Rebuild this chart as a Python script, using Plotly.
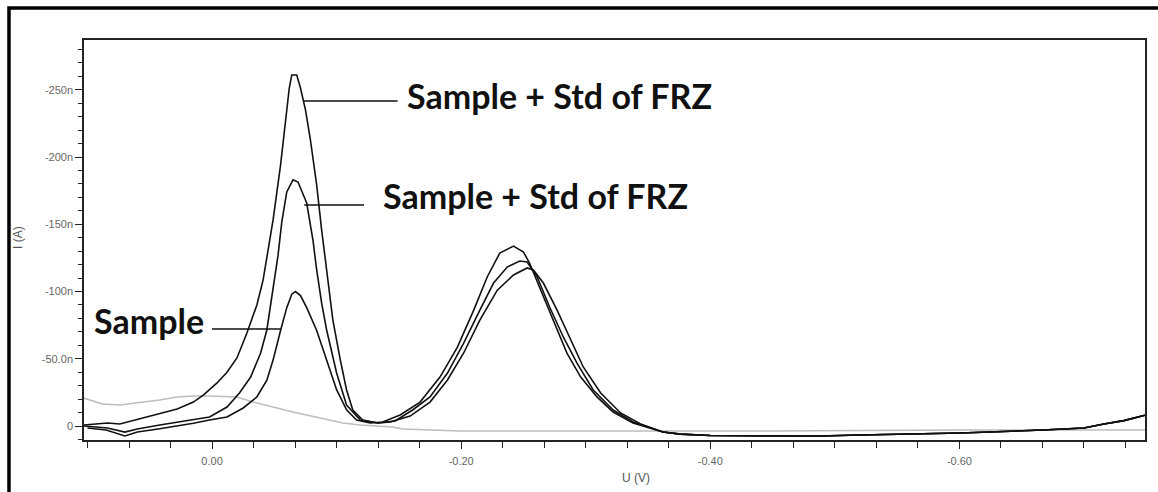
import plotly.graph_objects as go

# ---- data (U in V, I in nA) ----
sample_v = [0.100, 0.085, 0.070, 0.060, 0.042, 0.015, 0.002, -0.012, -0.025, -0.036,
            -0.044, -0.049, -0.055, -0.060, -0.064, -0.067, -0.071, -0.076, -0.084, -0.092,
            -0.100, -0.108, -0.116, -0.127, -0.137, -0.151, -0.167, -0.183, -0.197, -0.210,
            -0.221, -0.231, -0.242, -0.250, -0.255, -0.263, -0.274, -0.285, -0.296, -0.309,
            -0.322, -0.338]
sample_i = [1.5, 3.0, 7.4, 4.5, 2.0, -2.0, -4.5, -6.7, -13.4, -21.6,
            -34.0, -49.0, -71.0, -88.0, -98.0, -100.0, -97.0, -88.0, -71.0, -49.0,
            -27.0, -12.0, -4.5, -2.2, -3.0, -8.2, -17.8, -36.4, -58.7, -86.0,
            -111.0, -128.6, -133.8, -129.4, -121.0, -103.0, -79.0, -54.0, -36.4, -21.6,
            -10.4, -2.2]

std1_v = [0.103, 0.084, 0.070, 0.060, 0.042, 0.015, 0.002, -0.012, -0.022, -0.031,
          -0.039, -0.044, -0.049, -0.053, -0.056, -0.060, -0.065, -0.069, -0.076, -0.081,
          -0.084, -0.088, -0.092, -0.100, -0.108, -0.119, -0.133, -0.147, -0.161, -0.175,
          -0.189, -0.202, -0.215, -0.226, -0.237, -0.247, -0.253, -0.261, -0.271, -0.282,
          -0.293, -0.306, -0.322, -0.338]
std1_i = [0.0, 1.5, 4.5, 2.2, -0.7, -4.5, -6.7, -14.1, -24.5, -36.4,
          -54.3, -71.4, -101.0, -127.0, -151.7, -174.0, -183.0, -181.4, -165.8, -138.3,
          -116.0, -91.4, -71.4, -39.4, -15.6, -4.5, -2.2, -3.7, -11.9, -21.6,
          -39.4, -61.7, -86.2, -106.3, -118.2, -122.7, -121.9, -110.8, -88.5, -66.2,
          -46.8, -26.8, -11.9, -3.0]

std2_v = [0.103, 0.084, 0.074, 0.068, 0.055, 0.042, 0.028, 0.015, 0.007, -0.004,
          -0.012, -0.020, -0.028, -0.036, -0.041, -0.045, -0.049, -0.055, -0.059, -0.062,
          -0.064, -0.068, -0.071, -0.075, -0.079, -0.084, -0.088, -0.092, -0.097, -0.103,
          -0.108, -0.113, -0.121, -0.133, -0.143, -0.159, -0.175, -0.189, -0.202, -0.215,
          -0.229, -0.242, -0.253, -0.258, -0.266, -0.277, -0.288, -0.298, -0.312, -0.328,
          -0.344]
std2_i = [-0.7, -2.2, -1.5, -3.0, -5.9, -8.9, -12.6, -17.8, -23.0, -32.0,
          -40.0, -50.6, -69.1, -90.0, -108.6, -130.9, -153.2, -194.0, -227.5, -251.3,
          -261.0, -261.0, -251.3, -235.0, -212.6, -179.2, -145.7, -116.0, -78.8, -49.0,
          -26.8, -11.9, -4.5, -2.2, -3.0, -7.4, -17.8, -34.2, -54.3, -78.8,
          -101.0, -112.3, -117.5, -116.0, -106.3, -86.2, -64.0, -43.9, -24.5, -9.7,
          -1.5]

# common tail of the three black curves
tail_v = [-0.362, -0.376, -0.400, -0.440, -0.488, -0.520, -0.569, -0.601, -0.667, -0.700,
          -0.716, -0.732, -0.749]
tail_i = [4.5, 6.0, 7.0, 7.4, 7.4, 6.7, 6.0, 5.2, 3.0, 1.5,
          -1.5, -4.0, -8.0]

blank_v = [0.103, 0.088, 0.074, 0.060, 0.042, 0.028, 0.015, 0.002, -0.020, -0.033,
           -0.052, -0.065, -0.087, -0.105, -0.119, -0.145, -0.153, -0.199, -0.300, -0.450,
           -0.600, -0.749]
blank_i = [-20.8, -16.4, -15.6, -17.1, -19.3, -21.6, -22.3, -22.3, -21.6, -17.8,
           -13.4, -10.4, -5.9, -2.2, -0.7, 0.7, 2.2, 3.7, 3.7, 3.7,
           3.0, 3.0]

y_tickvals = [0, -50, -100, -150, -200, -250]
y_ticktext = ["0", "-50.0n", "-100n", "-150n", "-200n", "-250n"]
x_tickvals = [0.0, -0.2, -0.4, -0.6]
x_ticktext = ["0.00", "-0.20", "-0.40", "-0.60"]

labels = ["Sample + Std of FRZ", "Sample + Std of FRZ", "Sample"]

fig = go.Figure()
fig.add_trace(go.Scatter(x=blank_v, y=blank_i, mode="lines",
                         line=dict(color="#bdbdbd", width=1.5), name="Blank"))
for vs, is_, nm in [(sample_v, sample_i, "Sample"),
                    (std1_v, std1_i, "Sample + Std 1"),
                    (std2_v, std2_i, "Sample + Std 2")]:
    fig.add_trace(go.Scatter(x=vs + tail_v, y=is_ + tail_i, mode="lines",
                             line=dict(color="#111111", width=1.6), name=nm))

ann_font = dict(family="Lato, 'Open Sans', sans-serif", size=34, color="#111111")
# leader lines (data coordinates)
leaders = [(-0.073, -0.149, -241.6), (-0.074, -0.122, -164.3), (0.0, -0.055, -72.1)]
for x0, x1, yy in leaders:
    fig.add_shape(type="line", x0=x0, x1=x1, y0=yy, y1=yy, xref="x", yref="y",
                  line=dict(color="#111111", width=1.6))
texts = [(-0.155, -245.5), (-0.136, -171.5), (0.0965, -78.5)]
for (tx, ty), lab in zip(texts, labels):
    fig.add_annotation(x=tx, y=ty, xref="x", yref="y", text="<b>" + lab + "</b>",
                       showarrow=False, xanchor="left", yanchor="middle", font=ann_font)

# axis titles
title_font = dict(family="Liberation Sans, Arial, sans-serif", size=12, color="#555555")
fig.add_annotation(text="U (V)", xref="paper", yref="paper", x=0.520, y=-0.095,
                   showarrow=False, xanchor="center", yanchor="middle", font=title_font)
fig.add_annotation(text="I (A)", xref="paper", yref="paper", x=-0.0622, y=0.505,
                   showarrow=False, xanchor="center", yanchor="middle", textangle=-90,
                   font=title_font)

# outer black frame (cut off at right and bottom)
fig.add_shape(type="rect", xref="paper", yref="paper",
              x0=-0.0707, x1=1.03, y0=-0.2, y1=1.08,
              line=dict(color="black", width=3.5), layer="above")

tick_font = dict(family="Liberation Sans, Arial, sans-serif", size=11, color="#666666")
fig.update_layout(
    width=1158, height=492,
    margin=dict(l=84, r=13, t=40, b=52),
    paper_bgcolor="white", plot_bgcolor="white",
    showlegend=False,
    xaxis=dict(range=[0.1028, -0.749], tickmode="array", tickvals=x_tickvals,
               ticktext=x_ticktext, ticks="outside", ticklen=7, tickwidth=1.3,
               tickcolor="#222", showline=True, linecolor="#222", linewidth=1.5,
               mirror=True, showgrid=False, zeroline=False, tickfont=tick_font,
               automargin=False, ticklabelstandoff=3,
               minor=dict(tickmode="linear", tick0=0, dtick=0.2 / 6, ticks="outside",
                          ticklen=6, tickwidth=1.3, tickcolor="#222", showgrid=False)),
    yaxis=dict(range=[10.4, -287], tickmode="array", tickvals=y_tickvals,
               ticktext=y_ticktext, ticks="outside", ticklen=7, tickwidth=1.3,
               tickcolor="#222", showline=True, linecolor="#222", linewidth=1.5,
               mirror=True, showgrid=False, zeroline=False, tickfont=tick_font,
               automargin=False,
               minor=dict(tickmode="linear", tick0=0, dtick=10, ticks="outside",
                          ticklen=4, tickwidth=1.3, tickcolor="#222", showgrid=False)),
)

fig.write_html("out.html")
